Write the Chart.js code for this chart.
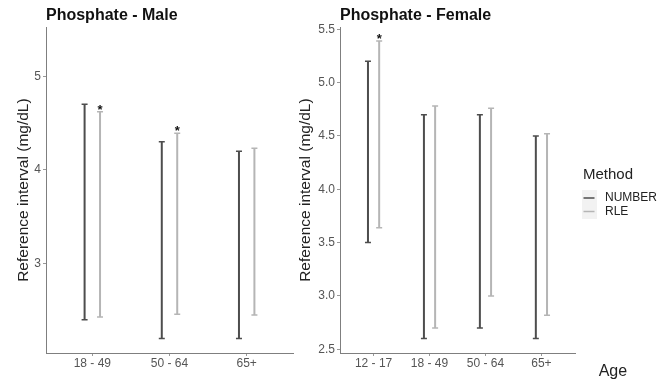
<!DOCTYPE html>
<html lang="en">
<head>
<meta charset="UTF-8">
<title>Phosphate reference intervals</title>
<script src="https://cdn.jsdelivr.net/npm/chart.js"></script>
<style>
  body { margin: 0; background: #fff; }
  .wrap { position: relative; width: 664px; height: 387px; }
  .panel { position: absolute; top: 0; }
  #male { left: 0; }
  #female { left: 294px; }
</style>
</head>
<body>
<div class="wrap">
  <div class="panel" id="male"><canvas id="maleChart" width="294" height="387"></canvas></div>
  <div class="panel" id="female"><canvas id="femaleChart" width="370" height="387"></canvas></div>
</div>

<script>
// male panel
const maleAges = ['18 - 49', '50 - 64', '65+'];
const maleNumberLow = [2.40, 2.20, 2.20];
const maleNumberHigh = [4.70, 4.30, 4.20];
const maleRleLow = [2.43, 2.46, 2.45];
const maleRleHigh = [4.62, 4.39, 4.23];
const maleStar = [true, true, false];
const maleTicks = [3, 4, 5];

// female panel
const femaleAges = ['12 - 17', '18 - 49', '50 - 64', '65+'];
const femaleNumberLow = [3.50, 2.60, 2.70, 2.60];
const femaleNumberHigh = [5.20, 4.70, 4.70, 4.50];
const femaleRleLow = [3.64, 2.70, 3.00, 2.82];
const femaleRleHigh = [5.39, 4.78, 4.76, 4.52];
const femaleStar = [true, false, false, false];
const femaleTicks = [2.5, 3.0, 3.5, 4.0, 4.5, 5.0, 5.5];

const FONT = '"Liberation Sans", Arial, sans-serif';
const NUMBER_COLOR = '#4d4d4d';
const RLE_COLOR = '#b5b5b5';

Chart.defaults.font.family = FONT;

// caps on both ends of every interval + the significance asterisk
const errBars = {
  id: 'errBars',
  afterDatasetsDraw(chart) {
    const ctx = chart.ctx;
    ctx.save();
    chart.data.datasets.forEach((ds, di) => {
      const meta = chart.getDatasetMeta(di);
      meta.data.forEach((bar, i) => {
        ctx.strokeStyle = ds.backgroundColor;
        ctx.lineWidth = 1.5;
        ctx.beginPath();
        [bar.y, bar.base].forEach(y => {
          ctx.moveTo(bar.x - 3, y);
          ctx.lineTo(bar.x + 3, y);
        });
        ctx.stroke();
        if (ds.stars && ds.stars[i]) {
          ctx.fillStyle = '#111';
          ctx.font = 'bold 13px ' + FONT;
          ctx.textAlign = 'center';
          ctx.textBaseline = 'alphabetic';
          ctx.fillText('*', bar.x, Math.min(bar.y, bar.base) + 2);
        }
      });
    });
    ctx.restore();
  }
};

// legend + x axis title, only on the right panel
const methodLegend = {
  id: 'methodLegend',
  afterDraw(chart) {
    const ctx = chart.ctx;
    const x0 = chart.chartArea.right + 8;
    ctx.save();
    ctx.textAlign = 'left';
    ctx.textBaseline = 'middle';
    ctx.fillStyle = '#222';
    ctx.font = '15px ' + FONT;
    ctx.fillText('Method', x0, 175);

    ctx.fillStyle = '#f2f2f2';
    ctx.fillRect(x0 - 1, 190, 15, 29);
    chart.data.datasets.forEach((ds, i) => {
      const y = 198 + i * 13.5;
      ctx.strokeStyle = ds.backgroundColor;
      ctx.lineWidth = 1.5;
      ctx.beginPath();
      ctx.moveTo(x0 + 0.5, y);
      ctx.lineTo(x0 + 11.5, y);
      ctx.stroke();
      ctx.fillStyle = '#222';
      ctx.font = '12px ' + FONT;
      ctx.fillText(ds.label, x0 + 22, y);
    });

    ctx.textBaseline = 'alphabetic';
    ctx.font = '16px ' + FONT;
    ctx.fillText('Age', x0 + 15.7, 376);
    ctx.restore();
  }
};

function toPoints(low, high) {
  return low.map((lo, i) => ({ x: i + 1, y: [lo, high[i]] }));
}

function makeChart(id, cfg) {
  const barStyle = {
    categoryPercentage: 0.4,
    barPercentage: 1,
    maxBarThickness: 2,
    borderWidth: 0,
    borderSkipped: false
  };
  return new Chart(document.getElementById(id), {
    type: 'bar',
    data: {
      datasets: [
        Object.assign({ label: 'NUMBER', data: toPoints(cfg.numLow, cfg.numHigh), backgroundColor: NUMBER_COLOR }, barStyle),
        Object.assign({ label: 'RLE', data: toPoints(cfg.rleLow, cfg.rleHigh), backgroundColor: RLE_COLOR, stars: cfg.stars }, barStyle)
      ]
    },
    options: {
      responsive: false,
      animation: false,
      layout: { padding: { left: 0, right: cfg.padRight, top: 0, bottom: 0 } },
      plugins: {
        legend: { display: false },
        tooltip: { enabled: false },
        title: {
          display: true,
          text: cfg.title,
          align: 'start',
          fullSize: false,
          color: '#111',
          font: { size: 16, weight: 'bold' },
          padding: { top: 6, bottom: 2 }
        }
      },
      scales: {
        x: {
          type: 'linear',
          min: 0.4,
          max: cfg.ages.length + 0.6,
          offset: false,
          afterBuildTicks: s => { s.ticks = cfg.ages.map((_, i) => ({ value: i + 1 })); },
          afterFit: s => { s.height = 34; },
          grid: { offset: false, drawOnChartArea: false, drawTicks: true, tickLength: 3, color: '#999' },
          border: { color: '#7f7f7f', width: 1 },
          ticks: {
            autoSkip: false,
            maxRotation: 0,
            padding: 0,
            color: '#555',
            font: { size: 12 },
            callback: v => cfg.ages[Math.round(v) - 1]
          }
        },
        y: {
          min: cfg.yMin,
          max: cfg.yMax,
          afterBuildTicks: s => { s.ticks = cfg.ticks.map(v => ({ value: v })); },
          afterFit: s => { s.width = 46; },
          grid: { drawOnChartArea: false, drawTicks: true, tickLength: 3, color: '#999' },
          border: { color: '#7f7f7f', width: 1 },
          ticks: {
            padding: 2,
            color: '#555',
            font: { size: 12 },
            callback: v => v.toFixed(cfg.decimals)
          },
          title: {
            display: true,
            text: 'Reference interval (mg/dL)',
            color: '#222',
            font: { size: 15.5 },
            padding: { top: cfg.yTitlePad, bottom: 0 }
          }
        }
      }
    },
    plugins: cfg.plugins
  });
}

makeChart('maleChart', {
  title: 'Phosphate - Male',
  ages: maleAges,
  numLow: maleNumberLow, numHigh: maleNumberHigh,
  rleLow: maleRleLow, rleHigh: maleRleHigh,
  stars: maleStar,
  ticks: maleTicks,
  decimals: 0,
  yMin: 2.045, yMax: 5.523,
  yTitlePad: 14,
  padRight: 1,
  plugins: [errBars]
});

makeChart('femaleChart', {
  title: 'Phosphate - Female',
  ages: femaleAges,
  numLow: femaleNumberLow, numHigh: femaleNumberHigh,
  rleLow: femaleRleLow, rleHigh: femaleRleHigh,
  stars: femaleStar,
  ticks: femaleTicks,
  decimals: 1,
  yMin: 2.465, yMax: 5.52,
  yTitlePad: 2.3,
  padRight: 89,
  plugins: [errBars, methodLegend]
});
</script>
</body>
</html>
